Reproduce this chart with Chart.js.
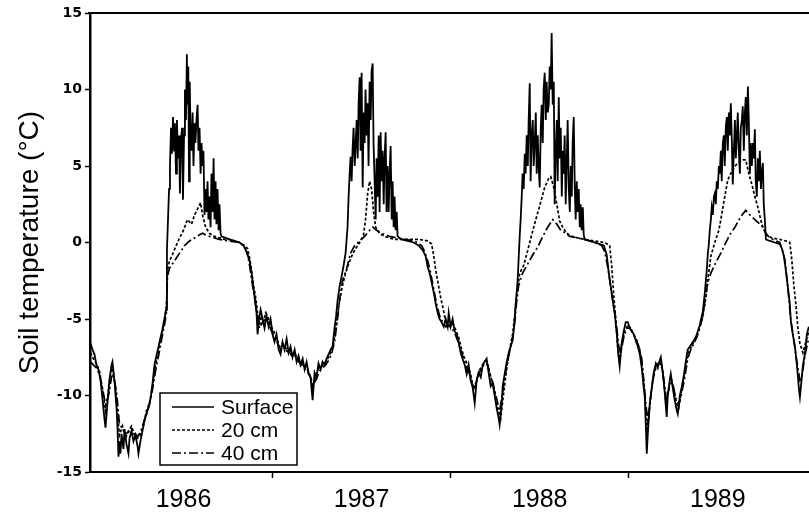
<!DOCTYPE html>
<html>
<head>
<meta charset="utf-8">
<script src="https://cdn.jsdelivr.net/npm/chart.js@4.4.1/dist/chart.umd.min.js"></script>
<style>
  html, body { margin: 0; padding: 0; background: #fff; }
  #wrap { width: 809px; height: 514px; }
</style>
</head>
<body>
<div id="wrap"><canvas id="soil" width="809" height="514"></canvas></div>
<script>
// Soil temperature record, 1986-1989 (x = decimal year, y = deg C)
const seriesLabels = ['Surface', '20 cm', '40 cm'];
const yearLabels = ['1986', '1987', '1988', '1989'];
const yearTicks = [1987, 1988, 1989];          // tick marks between years
const labelTicks = [1986.5, 1987.5, 1988.5, 1989.5]; // year labels sit mid-year
const tempTicks = [-15, -10, -5, 0, 5, 10, 15];

const surface = [
  [1985.978,-6.6],[1985.989,-7.0],[1986.000,-7.3],[1986.011,-8.0],[1986.022,-8.3],[1986.034,-9.0],[1986.045,-10.2],[1986.056,-11.5],[1986.062,-12.1],[1986.073,-10.5],[1986.084,-9.0],[1986.096,-8.0],[1986.101,-7.8],[1986.112,-9.0],[1986.124,-10.8],[1986.129,-12.0],[1986.135,-14.0],[1986.140,-13.0],[1986.146,-13.8],[1986.152,-12.5],[1986.163,-13.5],[1986.169,-12.2],[1986.180,-13.2],[1986.191,-13.8],[1986.197,-12.8],[1986.208,-12.3],[1986.219,-13.0],[1986.230,-12.6],[1986.242,-13.3],[1986.247,-13.8],[1986.258,-13.0],[1986.270,-12.3],[1986.281,-11.6],[1986.292,-11.2],[1986.303,-10.8],[1986.315,-10.2],[1986.326,-9.2],[1986.337,-8.0],[1986.348,-7.4],[1986.360,-6.8],[1986.371,-6.2],[1986.382,-5.7],[1986.393,-5.0],[1986.402,-4.4],
  [1986.407,-0.5],[1986.413,1.5],[1986.419,3.5],[1986.424,5.0],[1986.430,7.5],[1986.435,5.8],[1986.441,8.2],[1986.447,6.0],[1986.452,7.8],[1986.458,4.5],[1986.463,8.0],[1986.469,5.5],[1986.475,7.0],[1986.480,3.2],[1986.486,6.8],[1986.492,7.5],[1986.497,2.8],[1986.503,7.0],[1986.508,10.0],[1986.514,8.0],[1986.519,12.3],[1986.522,9.0],[1986.527,11.5],[1986.531,4.0],[1986.535,10.5],[1986.539,7.5],[1986.545,6.0],[1986.551,8.5],[1986.556,5.0],[1986.562,7.8],[1986.567,6.5],[1986.573,8.0],[1986.579,9.0],[1986.584,6.0],[1986.590,7.5],[1986.596,4.5],[1986.601,6.5],[1986.607,5.0],[1986.612,6.0],[1986.618,1.8],[1986.624,3.5],[1986.629,2.0],[1986.635,4.0],[1986.640,1.5],[1986.646,3.0],[1986.652,1.0],[1986.657,4.5],[1986.663,2.0],[1986.669,5.5],[1986.674,1.5],[1986.680,4.0],[1986.685,1.2],[1986.691,3.5],[1986.697,0.8],[1986.702,2.5],[1986.708,0.6],[1986.713,0.4],
  [1986.736,0.3],[1986.758,0.2],[1986.787,0.1],[1986.815,0.0],[1986.837,-0.2],[1986.854,-0.6],[1986.871,-1.2],[1986.882,-2.0],[1986.893,-3.0],[1986.902,-3.8],[1986.910,-4.6],[1986.916,-6.0],[1986.924,-5.0],[1986.933,-4.4],[1986.944,-5.0],[1986.955,-5.6],[1986.966,-4.8],[1986.978,-5.5],[1986.989,-5.0],
  [1987.000,-6.0],[1987.011,-6.5],[1987.022,-6.0],[1987.034,-7.0],[1987.045,-7.3],[1987.056,-6.5],[1987.067,-7.0],[1987.079,-6.3],[1987.090,-7.2],[1987.101,-6.8],[1987.112,-7.5],[1987.124,-7.0],[1987.135,-7.8],[1987.146,-7.4],[1987.157,-8.0],[1987.169,-7.6],[1987.180,-8.3],[1987.191,-7.8],[1987.202,-8.5],[1987.213,-8.8],[1987.225,-10.3],[1987.236,-8.5],[1987.247,-8.8],[1987.258,-7.9],[1987.270,-8.3],[1987.281,-7.8],[1987.292,-8.0],[1987.303,-7.6],[1987.315,-7.3],[1987.326,-7.0],[1987.337,-6.8],[1987.348,-5.6],[1987.357,-4.8],[1987.365,-3.8],[1987.376,-2.9],[1987.388,-2.2],[1987.399,-1.5],[1987.410,-0.7],
  [1987.421,1.0],[1987.427,3.0],[1987.433,4.5],[1987.438,5.6],[1987.444,4.0],[1987.449,6.0],[1987.455,7.5],[1987.461,5.0],[1987.466,6.2],[1987.472,8.0],[1987.478,5.5],[1987.483,9.0],[1987.489,10.8],[1987.494,6.0],[1987.500,11.1],[1987.506,3.6],[1987.511,8.5],[1987.517,6.5],[1987.522,10.0],[1987.528,7.0],[1987.534,9.1],[1987.539,5.0],[1987.545,10.5],[1987.551,8.0],[1987.556,11.2],[1987.562,11.7],[1987.567,6.5],[1987.573,4.0],[1987.579,1.5],[1987.584,5.5],[1987.590,3.0],[1987.596,7.0],[1987.601,2.0],[1987.607,7.2],[1987.612,4.0],[1987.618,6.0],[1987.624,2.5],[1987.629,5.5],[1987.635,7.2],[1987.640,2.0],[1987.646,5.0],[1987.652,2.0],[1987.657,4.5],[1987.663,6.3],[1987.669,1.5],[1987.674,4.0],[1987.680,1.0],[1987.685,3.0],[1987.691,0.8],[1987.697,2.0],[1987.702,0.4],
  [1987.725,0.2],[1987.758,0.1],[1987.792,0.0],[1987.820,-0.2],[1987.843,-0.5],[1987.860,-0.9],[1987.871,-1.6],[1987.882,-2.0],[1987.893,-2.6],[1987.904,-3.2],[1987.916,-4.0],[1987.927,-4.6],[1987.938,-5.0],[1987.949,-5.2],[1987.961,-5.5],[1987.972,-5.0],[1987.983,-5.5],[1987.989,-4.6],
  [1988.000,-5.5],[1988.011,-5.0],[1988.022,-5.8],[1988.034,-6.0],[1988.045,-6.5],[1988.056,-7.2],[1988.067,-7.6],[1988.079,-8.0],[1988.090,-8.6],[1988.101,-8.0],[1988.112,-9.0],[1988.124,-9.5],[1988.135,-10.5],[1988.146,-9.0],[1988.157,-8.5],[1988.169,-8.8],[1988.180,-8.0],[1988.191,-7.8],[1988.202,-7.6],[1988.213,-8.5],[1988.225,-9.4],[1988.236,-9.2],[1988.247,-10.0],[1988.258,-10.8],[1988.270,-11.5],[1988.275,-11.9],[1988.287,-10.5],[1988.292,-9.4],[1988.303,-8.6],[1988.315,-7.8],[1988.326,-7.2],[1988.337,-6.8],[1988.348,-6.4],[1988.357,-5.4],[1988.365,-4.0],[1988.371,-3.2],[1988.376,-2.5],[1988.382,-1.0],
  [1988.388,0.5],[1988.393,1.5],[1988.399,3.0],[1988.404,4.5],[1988.410,3.5],[1988.416,5.8],[1988.421,4.5],[1988.427,7.0],[1988.433,5.0],[1988.438,8.0],[1988.444,10.4],[1988.449,4.0],[1988.455,7.0],[1988.461,8.0],[1988.466,5.0],[1988.472,6.5],[1988.478,8.5],[1988.483,4.5],[1988.489,7.0],[1988.494,5.0],[1988.500,3.6],[1988.506,7.5],[1988.511,9.0],[1988.517,6.5],[1988.522,10.0],[1988.528,11.1],[1988.534,8.0],[1988.539,10.5],[1988.545,8.5],[1988.551,9.0],[1988.556,11.5],[1988.562,10.0],[1988.567,13.7],[1988.573,9.0],[1988.579,10.5],[1988.584,2.5],[1988.590,6.0],[1988.596,8.0],[1988.601,4.0],[1988.607,9.5],[1988.612,5.5],[1988.618,7.5],[1988.624,3.0],[1988.629,6.0],[1988.635,4.5],[1988.640,7.0],[1988.646,2.5],[1988.652,5.5],[1988.657,8.0],[1988.663,3.5],[1988.669,2.0],[1988.674,5.0],[1988.680,3.0],[1988.685,6.5],[1988.691,8.2],[1988.697,3.5],[1988.702,1.5],[1988.708,4.0],[1988.713,2.0],[1988.719,3.5],[1988.725,1.0],[1988.730,2.5],[1988.736,0.8],[1988.742,2.3],[1988.747,0.5],[1988.753,0.2],
  [1988.781,0.1],[1988.809,0.0],[1988.837,-0.1],[1988.860,-0.2],[1988.876,-0.8],[1988.888,-2.0],[1988.899,-2.9],[1988.910,-3.8],[1988.921,-4.6],[1988.933,-6.0],[1988.941,-7.3],[1988.949,-8.1],[1988.961,-6.5],[1988.972,-5.8],[1988.983,-5.2],[1988.994,-5.2],
  [1989.006,-5.6],[1989.017,-5.8],[1989.028,-6.0],[1989.039,-6.4],[1989.051,-6.8],[1989.062,-7.3],[1989.073,-8.2],[1989.084,-9.5],[1989.090,-10.1],[1989.096,-12.0],[1989.101,-13.8],[1989.107,-12.5],[1989.118,-10.5],[1989.129,-9.5],[1989.140,-8.5],[1989.152,-7.9],[1989.163,-8.2],[1989.174,-7.7],[1989.180,-7.5],[1989.191,-8.5],[1989.202,-9.8],[1989.213,-11.4],[1989.219,-10.0],[1989.230,-9.0],[1989.236,-8.6],[1989.247,-9.5],[1989.258,-10.3],[1989.270,-11.0],[1989.275,-11.2],[1989.287,-10.0],[1989.298,-9.4],[1989.309,-8.7],[1989.320,-7.8],[1989.331,-7.0],[1989.343,-6.8],[1989.354,-6.6],[1989.365,-6.4],[1989.376,-6.2],[1989.388,-5.8],[1989.399,-5.4],[1989.404,-5.1],[1989.416,-4.5],[1989.427,-3.3],[1989.438,-1.8],[1989.444,-0.7],[1989.449,-0.2],
  [1989.455,0.8],[1989.461,1.5],[1989.466,2.3],[1989.472,1.8],[1989.478,3.0],[1989.483,3.2],[1989.489,2.5],[1989.494,4.0],[1989.500,3.5],[1989.506,5.0],[1989.511,4.5],[1989.517,6.0],[1989.522,4.0],[1989.528,6.5],[1989.534,7.0],[1989.539,5.0],[1989.545,7.6],[1989.551,8.2],[1989.556,6.0],[1989.562,8.5],[1989.567,7.0],[1989.573,9.1],[1989.579,6.5],[1989.584,3.8],[1989.590,6.0],[1989.596,8.0],[1989.601,5.5],[1989.607,7.0],[1989.612,8.5],[1989.618,6.0],[1989.624,4.5],[1989.629,7.5],[1989.635,8.0],[1989.640,8.9],[1989.646,6.0],[1989.652,8.5],[1989.657,9.5],[1989.663,7.0],[1989.669,10.2],[1989.674,8.0],[1989.680,4.5],[1989.685,6.5],[1989.691,5.0],[1989.697,6.5],[1989.702,5.5],[1989.708,7.4],[1989.713,4.0],[1989.719,3.0],[1989.725,5.5],[1989.730,4.0],[1989.736,6.0],[1989.742,3.5],[1989.747,4.5],[1989.753,5.2],[1989.758,2.5],[1989.764,1.5],[1989.770,0.2],
  [1989.792,0.1],[1989.820,0.0],[1989.848,-0.1],[1989.860,-0.4],[1989.871,-0.9],[1989.882,-1.8],[1989.893,-2.9],[1989.904,-4.0],[1989.910,-5.1],[1989.921,-6.0],[1989.933,-6.8],[1989.944,-8.0],[1989.955,-9.5],[1989.961,-10.1],[1989.966,-9.5],[1989.978,-8.0],[1989.989,-7.3],[1990.000,-6.0],[1990.011,-5.5]
];

const depth20 = [
  [1985.978,-7.2],[1985.994,-7.6],[1986.011,-7.9],[1986.028,-8.4],[1986.045,-9.6],[1986.062,-11.0],[1986.073,-10.2],[1986.090,-8.6],[1986.101,-8.2],[1986.118,-9.5],[1986.129,-11.0],[1986.140,-12.6],[1986.157,-12.0],[1986.174,-12.8],[1986.191,-12.3],[1986.208,-12.0],[1986.225,-12.6],[1986.242,-12.8],[1986.258,-12.6],[1986.275,-12.0],[1986.292,-11.0],[1986.309,-10.5],[1986.326,-9.4],[1986.343,-8.0],[1986.360,-7.0],[1986.376,-6.0],[1986.393,-5.0],[1986.404,-4.2],
  [1986.410,-1.8],[1986.421,-1.2],[1986.438,-0.8],[1986.455,-0.3],[1986.478,0.3],[1986.500,0.8],[1986.522,1.5],[1986.545,1.2],[1986.562,1.8],[1986.579,2.2],[1986.596,2.6],[1986.607,1.8],[1986.624,1.0],[1986.646,0.6],[1986.674,0.4],[1986.702,0.3],[1986.730,0.2],[1986.758,0.2],[1986.787,0.1],[1986.815,0.0],[1986.843,-0.2],[1986.860,-0.4],[1986.871,-1.0],[1986.882,-1.8],[1986.893,-2.8],[1986.904,-3.5],[1986.916,-4.6],[1986.927,-5.4],[1986.938,-4.8],[1986.949,-5.2],[1986.961,-4.6],[1986.972,-4.8],[1986.989,-5.4],
  [1987.006,-5.8],[1987.022,-6.2],[1987.039,-6.8],[1987.056,-6.6],[1987.073,-6.9],[1987.090,-7.0],[1987.107,-7.3],[1987.124,-7.2],[1987.140,-7.6],[1987.157,-7.8],[1987.174,-8.0],[1987.191,-8.2],[1987.208,-8.6],[1987.225,-9.4],[1987.242,-8.8],[1987.258,-8.2],[1987.275,-8.1],[1987.292,-7.9],[1987.309,-7.6],[1987.326,-7.2],[1987.343,-6.6],[1987.360,-5.2],[1987.376,-3.8],[1987.393,-2.8],[1987.410,-2.0],[1987.427,-1.4],[1987.444,-0.9],[1987.466,-0.4],[1987.489,0.0],[1987.511,0.5],[1987.522,1.5],[1987.534,3.2],[1987.545,4.0],[1987.556,3.5],[1987.567,2.0],[1987.579,1.0],[1987.601,0.6],[1987.629,0.4],[1987.657,0.3],[1987.685,0.2],[1987.713,0.2],[1987.770,0.2],[1987.826,0.2],[1987.871,0.1],[1987.893,-0.1],[1987.904,-0.8],[1987.916,-1.8],[1987.927,-2.5],[1987.944,-3.6],[1987.961,-4.5],[1987.972,-5.2],[1987.983,-5.6],[1987.994,-5.4],
  [1988.011,-5.3],[1988.028,-5.7],[1988.045,-6.2],[1988.062,-7.0],[1988.079,-7.6],[1988.096,-8.0],[1988.112,-8.6],[1988.129,-9.6],[1988.146,-9.0],[1988.163,-8.3],[1988.180,-8.0],[1988.197,-7.7],[1988.213,-8.2],[1988.230,-9.0],[1988.247,-9.8],[1988.264,-10.8],[1988.281,-11.5],[1988.298,-9.8],[1988.315,-8.2],[1988.331,-7.0],[1988.348,-6.0],[1988.365,-4.2],[1988.376,-3.0],[1988.388,-2.0],[1988.410,-1.5],[1988.433,-0.5],[1988.455,0.5],[1988.478,1.5],[1988.500,2.4],[1988.528,3.6],[1988.551,4.2],[1988.562,4.3],[1988.579,3.6],[1988.596,2.5],[1988.612,1.4],[1988.629,1.0],[1988.652,0.6],[1988.680,0.4],[1988.713,0.3],[1988.753,0.2],[1988.809,0.1],[1988.865,0.0],[1988.893,-0.2],[1988.904,-1.5],[1988.916,-3.5],[1988.927,-5.0],[1988.938,-6.8],[1988.949,-7.6],[1988.961,-6.6],[1988.978,-5.8],[1988.994,-5.4],
  [1989.011,-5.6],[1989.028,-6.0],[1989.045,-6.4],[1989.062,-7.0],[1989.079,-8.5],[1989.090,-9.8],[1989.101,-12.5],[1989.112,-11.5],[1989.124,-10.0],[1989.140,-8.6],[1989.157,-8.0],[1989.174,-7.8],[1989.191,-8.4],[1989.208,-10.5],[1989.219,-10.0],[1989.236,-8.8],[1989.253,-9.6],[1989.270,-10.6],[1989.281,-10.8],[1989.298,-9.5],[1989.315,-8.5],[1989.331,-7.3],[1989.348,-6.9],[1989.365,-6.5],[1989.382,-6.1],[1989.399,-5.5],[1989.416,-4.8],[1989.433,-3.6],[1989.444,-2.4],[1989.461,-0.9],[1989.483,0.0],[1989.506,0.8],[1989.517,1.5],[1989.539,3.0],[1989.556,4.1],[1989.584,4.8],[1989.612,5.2],[1989.640,5.4],[1989.657,5.4],[1989.674,4.5],[1989.691,3.8],[1989.708,3.0],[1989.725,2.3],[1989.747,1.2],[1989.770,0.5],[1989.803,0.3],[1989.848,0.2],[1989.882,0.1],[1989.904,0.0],[1989.916,-1.2],[1989.927,-2.8],[1989.938,-4.0],[1989.949,-5.5],[1989.961,-6.6],[1989.978,-7.2],[1989.994,-6.5],[1990.011,-5.8]
];

const depth40 = [
  [1985.978,-7.8],[1985.994,-8.0],[1986.011,-8.2],[1986.028,-8.6],[1986.045,-9.5],[1986.062,-10.6],[1986.079,-10.0],[1986.096,-8.8],[1986.107,-8.6],[1986.124,-9.8],[1986.140,-11.8],[1986.157,-12.2],[1986.174,-12.5],[1986.191,-12.4],[1986.208,-12.2],[1986.225,-12.4],[1986.242,-12.7],[1986.258,-12.4],[1986.275,-11.8],[1986.292,-11.2],[1986.309,-10.6],[1986.326,-9.6],[1986.343,-8.4],[1986.360,-7.4],[1986.376,-6.4],[1986.393,-5.4],[1986.404,-4.6],
  [1986.410,-2.2],[1986.421,-1.7],[1986.438,-1.4],[1986.461,-1.0],[1986.483,-0.6],[1986.506,-0.2],[1986.534,0.1],[1986.562,0.3],[1986.590,0.5],[1986.607,0.6],[1986.624,0.5],[1986.646,0.4],[1986.674,0.3],[1986.702,0.2],[1986.758,0.1],[1986.815,0.0],[1986.843,-0.3],[1986.860,-0.8],[1986.871,-1.5],[1986.882,-2.4],[1986.893,-3.2],[1986.904,-4.0],[1986.916,-5.0],[1986.927,-5.6],[1986.944,-5.2],[1986.961,-5.0],[1986.978,-5.3],[1986.994,-5.8],
  [1987.011,-6.2],[1987.028,-6.6],[1987.045,-7.0],[1987.062,-6.8],[1987.079,-7.1],[1987.096,-7.2],[1987.112,-7.5],[1987.129,-7.4],[1987.146,-7.8],[1987.163,-8.0],[1987.180,-8.2],[1987.197,-8.5],[1987.213,-8.8],[1987.230,-9.3],[1987.247,-8.9],[1987.264,-8.4],[1987.281,-8.2],[1987.298,-8.0],[1987.315,-7.7],[1987.331,-7.3],[1987.348,-6.5],[1987.365,-5.0],[1987.376,-3.8],[1987.393,-2.5],[1987.416,-1.7],[1987.438,-0.7],[1987.461,-0.2],[1987.489,0.1],[1987.517,0.4],[1987.545,0.8],[1987.562,1.0],[1987.584,0.8],[1987.612,0.6],[1987.657,0.4],[1987.702,0.3],[1987.742,0.2],[1987.798,0.1],[1987.837,-0.2],[1987.854,-0.6],[1987.871,-1.2],[1987.888,-2.0],[1987.904,-3.0],[1987.921,-4.0],[1987.938,-4.8],[1987.955,-5.2],[1987.972,-5.5],[1987.989,-5.4],
  [1988.006,-5.6],[1988.022,-5.9],[1988.039,-6.4],[1988.056,-7.0],[1988.073,-7.6],[1988.090,-8.2],[1988.107,-8.6],[1988.124,-9.4],[1988.140,-9.4],[1988.157,-8.6],[1988.174,-8.2],[1988.191,-7.9],[1988.208,-8.0],[1988.225,-8.8],[1988.242,-9.4],[1988.258,-10.2],[1988.275,-11.0],[1988.292,-9.8],[1988.309,-8.5],[1988.326,-7.4],[1988.343,-6.5],[1988.360,-5.2],[1988.371,-3.8],[1988.382,-2.8],[1988.404,-2.0],[1988.433,-1.4],[1988.461,-0.8],[1988.489,-0.3],[1988.517,0.4],[1988.545,1.0],[1988.573,1.5],[1988.596,1.2],[1988.618,0.8],[1988.646,0.6],[1988.669,0.4],[1988.713,0.3],[1988.753,0.2],[1988.809,0.0],[1988.848,-0.2],[1988.865,-0.6],[1988.882,-1.6],[1988.899,-2.9],[1988.910,-3.8],[1988.921,-4.6],[1988.933,-5.6],[1988.944,-6.8],[1988.955,-7.2],[1988.972,-6.2],[1988.989,-5.6],
  [1989.006,-5.6],[1989.022,-5.9],[1989.039,-6.3],[1989.056,-6.8],[1989.073,-7.6],[1989.084,-9.0],[1989.096,-10.6],[1989.107,-11.6],[1989.118,-10.6],[1989.135,-9.0],[1989.152,-8.2],[1989.169,-7.9],[1989.185,-8.0],[1989.202,-9.4],[1989.213,-10.4],[1989.230,-9.2],[1989.247,-9.2],[1989.264,-10.2],[1989.281,-10.6],[1989.298,-9.8],[1989.315,-8.8],[1989.331,-7.6],[1989.348,-7.0],[1989.365,-6.6],[1989.382,-6.2],[1989.399,-5.6],[1989.416,-4.8],[1989.433,-3.4],[1989.444,-2.6],[1989.461,-2.0],[1989.489,-1.3],[1989.517,-0.7],[1989.545,0.0],[1989.567,0.5],[1989.596,1.0],[1989.629,1.7],[1989.657,2.1],[1989.680,1.8],[1989.708,1.5],[1989.736,1.2],[1989.753,1.0],[1989.770,0.6],[1989.792,0.3],[1989.826,0.1],[1989.848,0.0],[1989.865,-0.6],[1989.876,-1.1],[1989.893,-2.9],[1989.910,-5.1],[1989.927,-6.4],[1989.944,-7.8],[1989.961,-9.0],[1989.972,-8.8],[1989.989,-7.4],[1990.011,-6.2]
];

const FONT = 'Liberation Sans, Arial, Helvetica, sans-serif';

// frame line along the top of the plot area
const topFrame = {
  id: 'topFrame',
  afterDraw(chart) {
    const { ctx, chartArea } = chart;
    ctx.save();
    ctx.strokeStyle = '#000';
    ctx.lineWidth = 2;
    ctx.beginPath();
    ctx.moveTo(chartArea.left - 2, chartArea.top);
    ctx.lineTo(chartArea.right, chartArea.top);
    ctx.stroke();
    ctx.restore();
  }
};

// boxed legend in the lower-left corner of the plot
const boxLegend = {
  id: 'boxLegend',
  afterDraw(chart) {
    const { ctx } = chart;
    const x0 = 160, y0 = 393, w = 137, h = 72, rowH = 23;
    ctx.save();
    ctx.fillStyle = '#fff';
    ctx.fillRect(x0, y0, w, h);
    ctx.strokeStyle = '#000';
    ctx.lineWidth = 1.5;
    ctx.strokeRect(x0, y0, w, h);
    ctx.font = '21px ' + FONT;
    ctx.textBaseline = 'middle';
    ctx.fillStyle = '#000';
    chart.data.datasets.forEach((ds, i) => {
      const y = y0 + 14 + i * rowH;
      ctx.setLineDash(ds.borderDash || []);
      ctx.lineWidth = 1.5;
      ctx.beginPath();
      ctx.moveTo(x0 + 12, y);
      ctx.lineTo(x0 + 54, y);
      ctx.stroke();
      ctx.setLineDash([]);
      ctx.fillText(ds.label, x0 + 61, y + 1);
    });
    ctx.restore();
  }
};

const toXY = arr => arr.map(p => ({ x: p[0], y: p[1] }));

new Chart(document.getElementById('soil'), {
  type: 'line',
  data: {
    datasets: [
      { label: seriesLabels[0], data: toXY(surface), borderColor: '#000', borderWidth: 1.8, borderDash: [] },
      { label: seriesLabels[1], data: toXY(depth20), borderColor: '#000', borderWidth: 1.7, borderDash: [3, 2] },
      { label: seriesLabels[2], data: toXY(depth40), borderColor: '#000', borderWidth: 1.7, borderDash: [9, 3, 2, 3] }
    ]
  },
  options: {
    responsive: false,
    animation: false,
    parsing: false,
    elements: { point: { radius: 0 }, line: { tension: 0, fill: false } },
    layout: { padding: { top: 13, right: 0, left: 0, bottom: 0 } },
    plugins: { legend: { display: false }, tooltip: { enabled: false } },
    scales: {
      x: {
        type: 'linear',
        min: 1985.975,
        max: 1990.012,
        afterFit: s => { s.height = 42; },
        afterBuildTicks: s => {
          s.ticks = [...yearTicks, ...labelTicks].sort((a, b) => a - b).map(v => ({ value: v }));
        },
        border: { display: true, color: '#000', width: 2 },
        grid: {
          drawOnChartArea: false,
          tickLength: 6,
          tickWidth: 1.5,
          tickColor: c => (c.tick && yearTicks.includes(c.tick.value)) ? '#000' : 'rgba(0,0,0,0)'
        },
        ticks: {
          autoSkip: false,
          maxRotation: 0,
          minRotation: 0,
          padding: 7,
          color: '#000',
          font: { family: FONT, size: 25 },
          callback: v => {
            const i = labelTicks.indexOf(v);
            return i >= 0 ? yearLabels[i] : '';
          }
        }
      },
      y: {
        min: -15,
        max: 15,
        afterFit: s => { s.width = 90; },
        afterBuildTicks: s => { s.ticks = tempTicks.map(v => ({ value: v })); },
        border: { display: true, color: '#000', width: 2.5 },
        grid: { drawOnChartArea: false, tickLength: 5, tickWidth: 1.5, color: '#000' },
        ticks: {
          padding: 3,
          color: '#000',
          font: { family: 'DejaVu Sans', size: 14, weight: 'bold' }
        },
        title: {
          display: true,
          text: 'Soil temperature (\u00B0C)',
          color: '#000',
          font: { family: FONT, size: 28 },
          padding: { top: 13, bottom: 0 }
        }
      }
    }
  },
  plugins: [topFrame, boxLegend]
});
</script>
</body>
</html>
